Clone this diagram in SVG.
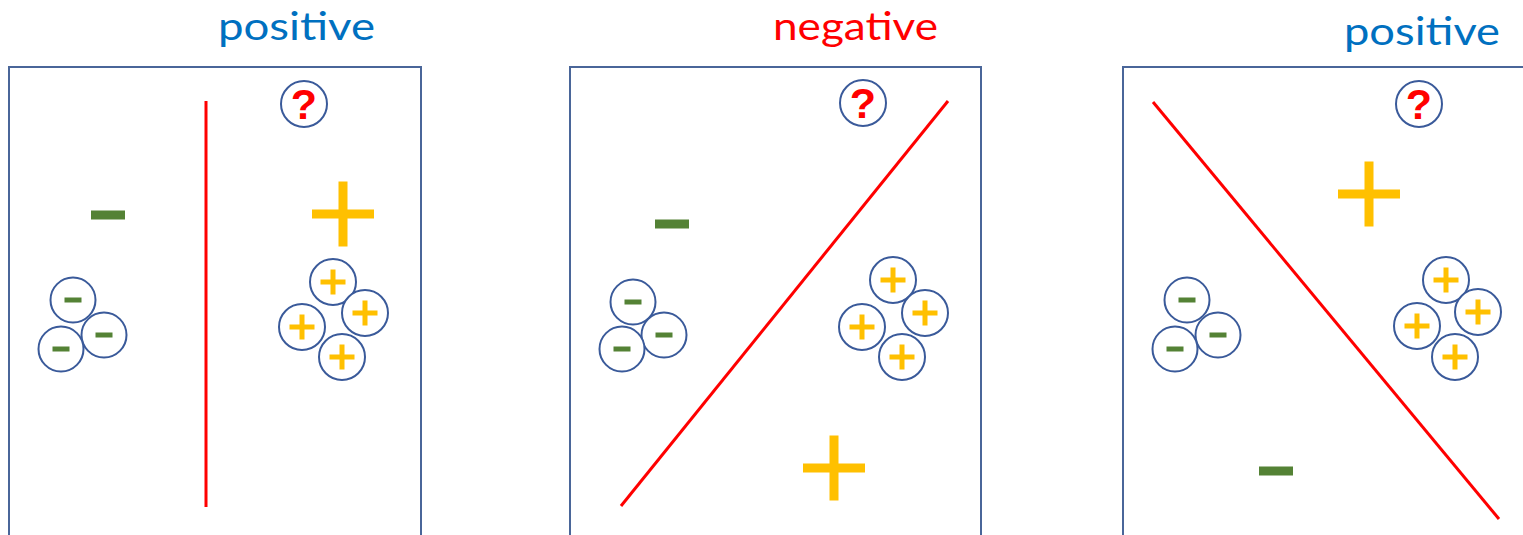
<svg xmlns="http://www.w3.org/2000/svg" width="1523" height="535" viewBox="0 0 1523 535">
<style>
.frame{fill:none;stroke:#4A6699;stroke-width:2}
.sep{stroke:#FF0000;stroke-width:3;fill:none}
.ring{fill:#fff;stroke:#3A5A9A;stroke-width:2}
.title{font-family:Lato,"Open Sans",sans-serif;font-size:38px}
.pos{fill:#0070C0}
.neg{fill:#FF0000}
.q{font-family:"Liberation Sans",Arial,sans-serif;font-size:43px;font-weight:bold;fill:#FF0000;text-anchor:middle}
.g{fill:#548235}
.y{fill:#FFC000}
</style>
<defs>
<g id="qm"><circle r="23" class="ring"/><text y="15" class="q">?</text></g>
<g id="sm"><circle r="22.5" class="ring"/><rect x="-8.5" y="-2.5" width="17" height="5" class="g"/></g>
<g id="sp"><circle r="23" class="ring"/><rect x="-12.5" y="-2.5" width="25" height="5" class="y"/><rect x="-2.5" y="-12.5" width="5" height="25" class="y"/></g>
<g id="bm"><rect x="-17" y="-4.5" width="34" height="9" class="g"/></g>
<g id="bp"><rect x="-31" y="-4.5" width="62" height="9" class="y"/><rect x="-4.5" y="-32.5" width="9" height="65" class="y"/></g>
</defs>

<g id="panel1">
<text x="218" y="40" class="title pos" textLength="157" lengthAdjust="spacingAndGlyphs">positive</text>
<rect x="9" y="67" width="412" height="480" class="frame"/>
<line x1="206" y1="101" x2="206" y2="507" class="sep"/>
<use href="#qm" x="304" y="104"/>
<use href="#bm" x="108" y="215"/>
<use href="#bp" x="343" y="214"/>
<use href="#sm" x="73" y="300"/>
<use href="#sm" x="104" y="335"/>
<use href="#sm" x="61" y="349"/>
<use href="#sp" x="333" y="282"/>
<use href="#sp" x="365" y="313"/>
<use href="#sp" x="302" y="327"/>
<use href="#sp" x="342" y="357"/>
</g>

<g id="panel2">
<text x="773" y="40" class="title neg" textLength="165" lengthAdjust="spacingAndGlyphs">negative</text>
<rect x="570" y="67" width="411" height="480" class="frame"/>
<line x1="621" y1="506" x2="948" y2="101" class="sep"/>
<use href="#qm" x="863" y="103"/>
<use href="#bm" x="672" y="224"/>
<use href="#bp" x="834" y="468"/>
<use href="#sm" x="633" y="302"/>
<use href="#sm" x="664" y="335"/>
<use href="#sm" x="622" y="349"/>
<use href="#sp" x="893" y="280"/>
<use href="#sp" x="925" y="313"/>
<use href="#sp" x="862" y="327"/>
<use href="#sp" x="902" y="357"/>
</g>

<g id="panel3">
<text x="1344" y="45" class="title pos" textLength="156" lengthAdjust="spacingAndGlyphs">positive</text>
<rect x="1123" y="67" width="420" height="480" class="frame"/>
<line x1="1153" y1="102" x2="1499" y2="519" class="sep"/>
<use href="#qm" x="1419" y="104"/>
<use href="#bp" x="1369" y="194"/>
<use href="#bm" x="1276" y="471"/>
<use href="#sm" x="1187" y="300"/>
<use href="#sm" x="1218" y="335"/>
<use href="#sm" x="1175" y="349"/>
<use href="#sp" x="1446" y="280"/>
<use href="#sp" x="1478" y="312"/>
<use href="#sp" x="1417" y="326"/>
<use href="#sp" x="1455" y="357"/>
</g>

<g id="connectors"></g>
</svg>
